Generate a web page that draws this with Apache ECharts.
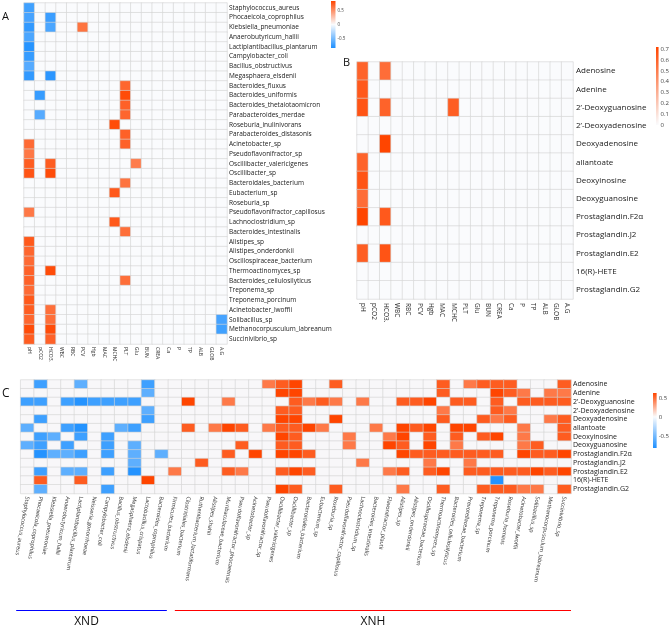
<!DOCTYPE html>
<html><head><meta charset="utf-8">
<script src="https://cdn.jsdelivr.net/npm/echarts@6/dist/echarts.min.js"></script>
<style>html,body{margin:0;padding:0;background:#fff}#c{width:672px;height:627px}</style>
</head><body><div id="c"></div>
<script>
// ---------- categories ----------
const clinical = ['pH','pCO2','HCO3.','WBC','RBC','PCV','Hgb','MAC','MCHC','PLT','Glu','BUN','CREA','Ca','P','TP','ALB','GLOB','A.G'];
const bacteriaA = ['Staphylococcus_aureus','Phocaeicola_coprophilus','Klebsiella_pneumoniae','Anaerobutyricum_hallii','Lactiplantibacillus_plantarum','Campylobacter_coli','Bacillus_obstructivus','Megasphaera_elsdenii','Bacteroides_fluxus','Bacteroides_uniformis','Bacteroides_thetaiotaomicron','Parabacteroides_merdae','Roseburia_inulinivorans','Parabacteroides_distasonis','Acinetobacter_sp','Pseudoflavonifractor_sp','Oscillibacter_valericigenes','Oscillibacter_sp','Bacteroidales_bacterium','Eubacterium_sp','Roseburia_sp','Pseudoflavonifractor_capillosus','Lachnoclostridium_sp','Bacteroides_intestinalis','Alistipes_sp','Alistipes_onderdonkii','Oscillospiraceae_bacterium','Thermoactinomyces_sp','Bacteroides_cellulosilyticus','Treponema_sp','Treponema_porcinum','Acinetobacter_lwoffii','Solibacillus_sp','Methanocorpusculum_labreanum','Succinivibrio_sp'];
const metabolites = ['Adenosine','Adenine','2\u2019-Deoxyguanosine','2\u2019-Deoxyadenosine','Deoxyadenosine','allantoate','Deoxyinosine','Deoxyguanosine','Prostaglandin.F2\u03b1','Prostaglandin.J2','Prostaglandin.E2','16(R)-HETE','Prostaglandin.G2'];
const bacteriaC = ['Staphylococcus_aureus','Phocaeicola_coprophilus','Klebsiella_pneumoniae','Anaerobutyricum_hallii','Lactiplantibacillus_plantarum','Neisseria_gonorrhoeae','Campylobacter_coli','Bacillus_obstructivus','Megasphaera_elsdenii','Lactobacillus_crispatus','Bacteroides_coprophilus','Firmicutes_bacterium','Clostridiales_bacterium','Ruthenibacterium_lactatiformans','Alistipes_shahii','Muribaculaceae_bacterium','Pseudoflavonifractor_phocaeensis','Acinetobacter_sp','Pseudoflavonifractor_sp','Oscillibacter_valericigenes','Oscillibacter_sp','Bacteroidales_bacterium','Eubacterium_sp','Roseburia_sp','Pseudoflavonifractor_capillosus','Lachnoclostridium_sp','Bacteroides_intestinalis','Flavonifractor_plautii','Alistipes_sp','Alistipes_onderdonkii','Oscillospiraceae_bacterium','Thermoactinomyces_sp','Bacteroides_cellulosilyticus','Prevotellaceae_bacterium','Treponema_sp','Treponema_porcinum','Roseburia_hominis','Acinetobacter_lwoffii','Solibacillus_sp','Methanocorpusculum_labreanum','Succinivibrio_sp'];
const groupNames = ['XND','XNH'];
const groupSizes = [11, 30];

// ---------- correlation values (row: list of [columnIndex, r]; unlisted = 0) ----------
const corrA = [
 [[0,-0.7]],
 [[0,-0.68],[2,-0.72]],
 [[0,-0.76],[2,-0.66],[5,0.62]],
 [[0,-0.66]],
 [[0,-0.8]],
 [[0,-0.74]],
 [[0,-0.62]],
 [[0,-0.76],[2,-0.78]],
 [[9,0.68]],
 [[1,-0.74],[9,0.8]],
 [[9,0.7]],
 [[1,-0.62],[9,0.68]],
 [[8,0.8]],
 [[9,0.7]],
 [[0,0.66],[9,0.7]],
 [[0,0.6]],
 [[0,0.72],[2,0.72],[10,0.58]],
 [[0,0.76],[2,0.8]],
 [[9,0.62]],
 [[8,0.74]],
 [],
 [[0,0.6]],
 [[8,0.74]],
 [[9,0.64]],
 [[0,0.74]],
 [[0,0.68]],
 [[0,0.66]],
 [[0,0.7],[2,0.8]],
 [[0,0.7],[9,0.64]],
 [[0,0.66]],
 [[0,0.74]],
 [[0,0.72],[2,0.64]],
 [[0,0.68],[2,0.64],[18,-0.68]],
 [[0,0.8],[2,0.8],[18,-0.7]],
 [[0,0.72],[2,0.7]]
];
const corrB = [
 [[0,0.6],[2,0.56]],
 [[0,0.64]],
 [[0,0.66],[2,0.6],[8,0.62]],
 [],
 [[2,0.72]],
 [[0,0.6]],
 [[0,0.66]],
 [[0,0.56]],
 [[0,0.72],[2,0.64]],
 [],
 [[0,0.62],[2,0.66]],
 [],
 []
];
const corrC = [
 [[1,-0.7],[4,-0.58],[9,-0.7],[18,0.45],[19,0.55],[20,0.63],[23,0.55],[31,0.55],[33,0.45],[34,0.55],[35,0.55],[36,0.55],[40,0.55]],
 [[9,-0.58],[19,0.63],[20,0.63],[31,0.55],[35,0.63],[36,0.55],[37,0.45],[39,0.45],[40,0.45]],
 [[0,-0.7],[1,-0.7],[3,-0.7],[4,-0.8],[5,-0.7],[6,-0.7],[7,-0.7],[8,-0.7],[12,0.63],[15,0.45],[20,0.55],[21,0.45],[22,0.55],[23,0.45],[25,0.45],[28,0.55],[29,0.55],[30,0.63],[32,0.55],[33,0.55],[35,0.55],[37,0.55],[38,0.55],[39,0.55],[40,0.55]],
 [[9,-0.58],[19,0.55],[20,0.55],[31,0.45],[35,0.55],[36,0.45]],
 [[1,-0.7],[9,-0.7],[19,0.63],[20,0.63],[23,0.63],[31,0.55],[34,0.55],[35,0.45],[36,0.55],[39,0.45],[40,0.55]],
 [[0,-0.58],[3,-0.7],[4,-0.8],[7,-0.58],[8,-0.7],[12,0.55],[14,0.45],[15,0.63],[16,0.55],[18,0.45],[19,0.55],[20,0.55],[21,0.63],[22,0.45],[26,0.45],[28,0.63],[29,0.55],[30,0.63],[32,0.63],[33,0.63],[37,0.45],[40,0.55]],
 [[1,-0.7],[2,-0.58],[4,-0.7],[6,-0.7],[19,0.63],[20,0.55],[24,0.45],[27,0.45],[28,0.63],[30,0.55],[32,0.55],[34,0.55],[35,0.63],[37,0.45],[40,0.55]],
 [[0,-0.58],[1,-0.7],[3,-0.7],[6,-0.7],[8,-0.58],[16,0.55],[19,0.55],[20,0.55],[24,0.45],[27,0.63],[28,0.55],[30,0.63],[32,0.45],[37,0.45],[38,0.55]],
 [[1,-0.8],[2,-0.58],[3,-0.58],[4,-0.7],[6,-0.7],[8,-0.58],[10,-0.58],[15,0.55],[17,0.63],[19,0.63],[20,0.63],[21,0.55],[28,0.63],[29,0.55],[30,0.55],[31,0.55],[32,0.55],[33,0.55],[34,0.55],[35,0.55],[37,0.63],[38,0.55],[39,0.55],[40,0.63]],
 [[8,-0.58],[13,0.55],[25,0.45],[30,0.45],[33,0.45]],
 [[1,-0.7],[3,-0.58],[4,-0.58],[6,-0.7],[8,-0.8],[11,0.45],[15,0.55],[16,0.45],[19,0.55],[20,0.63],[21,0.55],[27,0.45],[28,0.55],[30,0.55],[31,0.63],[33,0.55],[34,0.55],[35,0.55],[36,0.55],[37,0.55],[38,0.63],[39,0.55],[40,0.63]],
 [[1,0.55],[4,0.55],[9,0.63],[35,-0.8]],
 [[1,-0.58],[6,-0.7],[19,0.63],[20,0.55],[23,0.55],[28,0.45],[31,0.55],[34,0.55],[35,0.55],[36,0.55],[37,0.45],[38,0.45],[40,0.55]]
];

// ---------- colour-bar ranges and ticks ----------
const rangeA = [-0.83, 0.83], rangeB = [0, 0.72], rangeC = [-0.82, 0.63];
const ticksA = [-0.5, 0, 0.5];
const ticksB = [0, 0.1, 0.2, 0.3, 0.4, 0.5, 0.6, 0.7];
const ticksC = [-0.5, 0, 0.5];

// ---------- layout / style ----------
const FONT = 'Open Sans';
const BLUE = '#1E90FF', MID = '#FAFBFD', ORANGE = '#FF4500';
const GA = {left:24, top:3, width:203, height:341};
const GB = {left:357, top:62, width:216, height:237};
const GC = {left:20.7, top:380, width:550.3, height:113.5};
const LA = {left:331, top:1, width:4.5, height:47};
const LB = {left:656, top:47, width:7, height:78};
const LC = {left:653, top:393, width:7, height:55};

function dense(rows, nCols){
  const out = [];
  rows.forEach((row, r) => {
    const m = {}; row.forEach(([c, v]) => { m[c] = v; });
    for (let c = 0; c < nCols; c++) out.push([c, r, m[c] || 0]);
  });
  return out;
}
function colorAt(v, lo, hi){
  if (v < 0) return echarts.color.lerp(Math.min(1, v / lo), [MID, BLUE]);
  return echarts.color.lerp(hi > 0 ? Math.min(1, v / hi) : 0, [MID, ORANGE]);
}
function colorList(lo, hi, n){
  const out = [];
  for (let i = 0; i < n; i++) out.push(colorAt(lo + (hi - lo) * i / (n - 1), lo, hi));
  return out;
}
function gradStops(lo, hi, n){
  const out = [];
  for (let i = 0; i < n; i++) out.push({offset: i / (n - 1), color: colorAt(hi - (hi - lo) * i / (n - 1), lo, hi)});
  return out;
}
function catX(grid, data, lab){
  return {gridIndex:grid, type:'category', data, axisLine:{show:false}, axisTick:{show:false}, splitLine:{show:false},
    axisLabel:Object.assign({interval:0, fontFamily:FONT, color:'#2a2a2a'}, lab)};
}
function catY(grid, data, lab){
  return {gridIndex:grid, type:'category', data, inverse:true, position:'right', axisLine:{show:false}, axisTick:{show:false}, splitLine:{show:false},
    axisLabel:Object.assign({interval:0, fontFamily:FONT, color:'#1a1a1a'}, lab)};
}
function legY(grid, range, ticks, fs){
  return {gridIndex:grid, type:'value', min:range[0], max:range[1], position:'right', axisLine:{show:false}, axisTick:{show:false}, splitLine:{show:false},
    axisLabel:{customValues:ticks, fontSize:fs, margin:2, color:'#444', fontFamily:FONT}};
}
function heat(i, data){
  return {type:'heatmap', xAxisIndex:i, yAxisIndex:i, data, silent:true,
    itemStyle:{borderColor:'#d3d3d3', borderWidth:0.6}, emphasis:{disabled:true}};
}
function legSeries(i, range){
  return {type:'custom', xAxisIndex:i, yAxisIndex:i, silent:true, data:[[0, range[0], range[1]]],
    renderItem(params, api){
      const a = api.coord([0, api.value(2)]);
      const b = api.coord([1, api.value(1)]);
      return {type:'rect', shape:{x:a[0], y:a[1], width:b[0]-a[0], height:b[1]-a[1]},
        style:{fill:new echarts.graphic.LinearGradient(0, 0, 0, 1, gradStops(range[0], range[1], 31))}};
    }};
}

// group bars under panel C
const colW = GC.width / bacteriaC.length;
const groupColors = ['#0000ff', '#ff0000'];
const graphics = [
  {type:'text', left:2, top:11, style:{text:'A', fontSize:11, fontFamily:FONT, fill:'#111'}},
  {type:'text', left:343, top:57, style:{text:'B', fontSize:11, fontFamily:FONT, fill:'#111'}},
  {type:'text', left:2, top:388, style:{text:'C', fontSize:12, fontFamily:FONT, fill:'#111'}}
];
let start = 0;
groupNames.forEach((g, i) => {
  const x1 = GC.left + colW * start + (i === 0 ? -4.5 : 6.5);
  const x2 = GC.left + colW * (start + groupSizes[i]) - (i === 0 ? 1.5 : 0);
  graphics.push({type:'line', shape:{x1, y1:610.5, x2, y2:610.5}, style:{stroke:groupColors[i], lineWidth:1}});
  graphics.push({type:'text', x:(x1 + x2) / 2 - (i === 0 ? 5 : 0), y:622,
    style:{text:g, fontSize:12, fontFamily:FONT, fill:'#111', align:'center', verticalAlign:'middle'}});
  start += groupSizes[i];
});

const chart = echarts.init(document.getElementById('c'));
chart.setOption({
  animation:false,
  backgroundColor:'#ffffff',
  grid:[GA, GB, GC, LA, LB, LC],
  xAxis:[
    catX(0, clinical, {rotate:-90, fontSize:5, margin:3}),
    catX(1, clinical, {rotate:-90, fontSize:6.5, margin:4}),
    catX(2, bacteriaC, {rotate:-100, fontSize:5.5, margin:3}),
    {gridIndex:3, type:'value', min:0, max:1, show:false},
    {gridIndex:4, type:'value', min:0, max:1, show:false},
    {gridIndex:5, type:'value', min:0, max:1, show:false}
  ],
  yAxis:[
    catY(0, bacteriaA, {fontSize:6.5, margin:2}),
    catY(1, metabolites, {fontSize:8, margin:3}),
    catY(2, metabolites, {fontSize:7, margin:2}),
    legY(3, rangeA, ticksA, 4.5),
    legY(4, rangeB, ticksB, 6),
    legY(5, rangeC, ticksC, 6)
  ],
  visualMap:[
    {type:'continuous', seriesIndex:0, min:rangeA[0], max:rangeA[1], show:false, inRange:{color:colorList(rangeA[0], rangeA[1], 41)}},
    {type:'continuous', seriesIndex:1, min:rangeB[0], max:rangeB[1], show:false, inRange:{color:colorList(rangeB[0], rangeB[1], 41)}},
    {type:'continuous', seriesIndex:2, min:rangeC[0], max:rangeC[1], show:false, inRange:{color:colorList(rangeC[0], rangeC[1], 41)}}
  ],
  series:[
    heat(0, dense(corrA, clinical.length)),
    heat(1, dense(corrB, clinical.length)),
    heat(2, dense(corrC, bacteriaC.length)),
    legSeries(3, rangeA),
    legSeries(4, rangeB),
    legSeries(5, rangeC)
  ],
  graphic:graphics
});
</script></body></html>
